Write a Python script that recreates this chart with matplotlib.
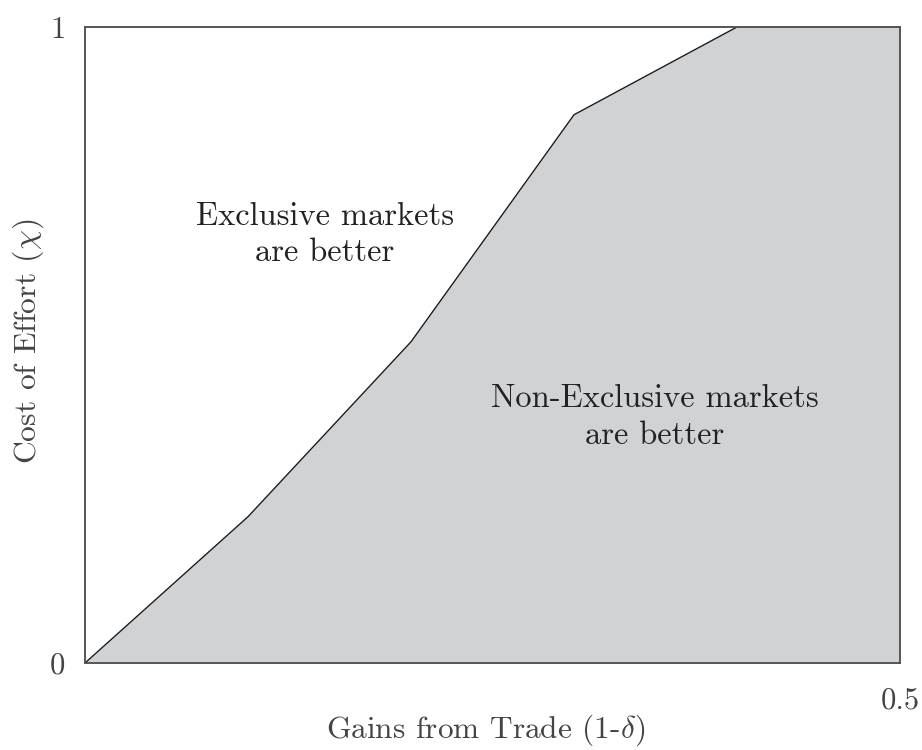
import matplotlib
matplotlib.use("Agg")
import matplotlib.pyplot as plt

plt.rcParams['font.family'] = 'cmr10'
plt.rcParams['mathtext.fontset'] = 'cm'
plt.rcParams['axes.unicode_minus'] = False
plt.rcParams['axes.formatter.use_mathtext'] = True

gains = [0.0, 0.1, 0.2, 0.3, 0.4, 0.5]
cost_threshold = [0.0, 0.23, 0.505, 0.862, 1.0, 1.0]
xticks = [0.5]
xticklabels = ["0.5"]
yticks = [0, 1]
yticklabels = ["0", "1"]

fig = plt.figure(figsize=(9.22, 7.5), dpi=100)
ax = fig.add_axes([85/922, 87/750, 815/922, 636/750])

ax.fill_between(gains, 0, cost_threshold, color="#d1d2d4", lw=0)
ax.plot(gains, cost_threshold, color="#1a1a1a", lw=1.0)

ax.set_xlim(0, 0.5)
ax.set_ylim(0, 1)
ax.set_xticks(xticks)
ax.set_xticklabels(xticklabels)
ax.set_yticks(yticks)
ax.set_yticklabels(yticklabels)
ax.tick_params(length=0, labelsize=22, colors="#444444")
ax.tick_params(axis='x', pad=17)
ax.tick_params(axis='y', pad=14)
for s in ax.spines.values():
    s.set_color("#555555")
    s.set_linewidth(1.4)

ax.set_xlabel(r"Gains from Trade (1-$\delta$)", fontsize=22.6, color="#444444", labelpad=-1)
ax.set_ylabel(r"Cost of Effort ($\chi$)", fontsize=22.8, color="#444444", labelpad=3)
ax.xaxis.label.set_x(0.492)
ax.yaxis.label.set_y(0.505)

ax.text(0.1472, 0.674, "Exclusive markets\nare better", ha="center", va="center",
        fontsize=23.4, color="#222222", linespacing=1.33)
ax.text(0.3497, 0.387, "Non-Exclusive markets\nare better", ha="center", va="center",
        fontsize=23.4, color="#222222", linespacing=1.33)

fig.savefig("out.png", dpi=100)
